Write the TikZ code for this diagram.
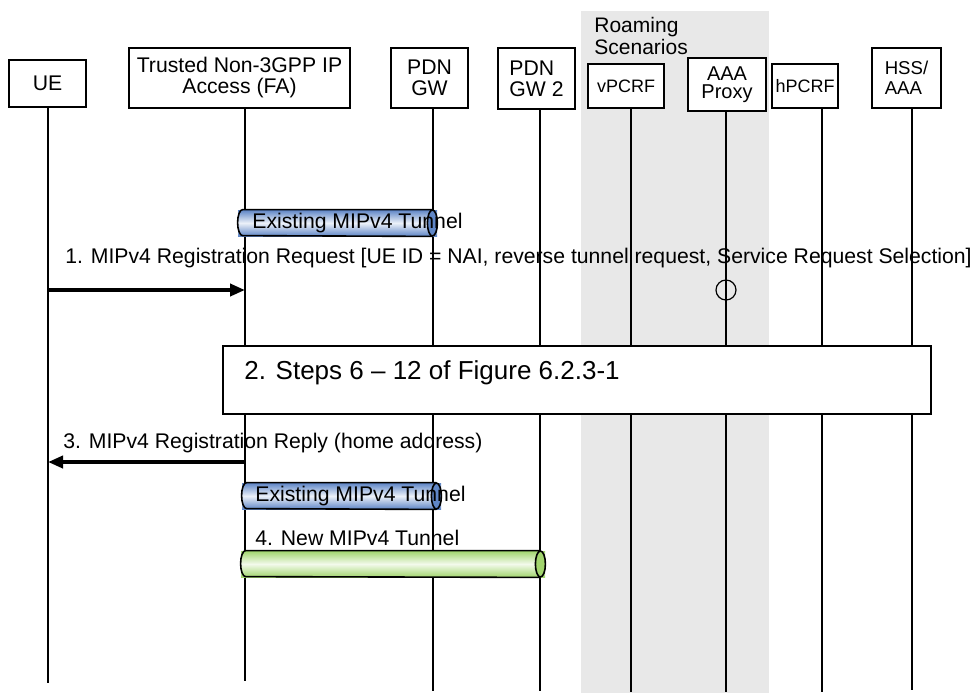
\documentclass[tikz,border=0pt]{standalone}
\usepackage{fontspec}
\setmainfont{Liberation Sans}
\usepackage{xcolor}
\usepackage{tikz}
\usetikzlibrary{arrows.meta,positioning,calc}

\definecolor{roam}{HTML}{E8E8E8}
\definecolor{tunblue}{HTML}{5F86C6}
\definecolor{tunbluel}{HTML}{ECF1F9}
\definecolor{tungreen}{HTML}{A2D56E}
\definecolor{tungreenl}{HTML}{F3FAEC}

\begin{document}
\begin{tikzpicture}[x=0.5pt, y=-0.5pt,
    actor/.style={rectangle, draw, line width=1pt, fill=white, inner sep=0pt, align=center,
        font=\fontsize{10.6}{10.5}\selectfont},
    small/.style={font=\fontsize{9}{9.5}\selectfont},
    life/.style={line width=0.8pt},
    msg/.style={line width=2pt, -{Triangle[length=7.5pt, width=6pt]}},
    lbl/.style={inner sep=0pt, anchor=west, font=\fontsize{10.6}{10.5}\selectfont},
    pipe/.style={rectangle, inner sep=0pt, minimum height=13pt},
    pipeedge/.style={line width=0.8pt}
]
\useasboundingbox (0,0) rectangle (974,693);

% roaming area
\fill[roam] (581,11) rectangle (769,693);
\node[lbl, anchor=north west, align=left, font=\fontsize{10.5}{9}\selectfont] (roaming) at (594,17) {Roaming\\Scenarios};

% entities
\node[actor, minimum width=38.5pt, minimum height=23.5pt] (ue) at (47.5,83.5) {UE};
\node[actor, minimum width=110.5pt, minimum height=30pt] (fa) at (239.5,78) {Trusted Non-3GPP IP\\Access (FA)};
\node[actor, minimum width=38.5pt, minimum height=30pt] (pgw) at (429.5,78) {PDN\\GW};
\node[actor, minimum width=38.5pt, minimum height=30.5pt, align=left] (pgw2) at (536.5,78.5) {PDN\\GW 2};
\node[actor, small, minimum width=38pt, minimum height=22pt] (vpcrf) at (626,86) {vPCRF};
\node[actor, minimum width=39pt, minimum height=26.5pt, font=\fontsize{10}{9}\selectfont] (aaa) at (727,84.5) {AAA\\Proxy};
\node[actor, small, minimum width=33pt, minimum height=22pt] (hpcrf) at (805,86) {hPCRF};
\node[actor, minimum width=34.5pt, minimum height=30pt, align=left, font=\fontsize{9.3}{10}\selectfont] (hss) at (906.5,78) {HSS/\\AAA};

% lifelines
\coordinate (ueB) at (48,683);
\coordinate (faB) at (245,681);
\coordinate (pgwB) at (433,691);
\coordinate (pgw2B) at (540,691);
\coordinate (vpcrfB) at (631,692);
\coordinate (aaaB) at (726,692);
\coordinate (hpcrfB) at (822,692);
\coordinate (hssB) at (912,690);
\foreach \n in {ue,fa,pgw,pgw2,vpcrf,aaa,hpcrf,hss}
    \draw[life] (\n.south -| \n B) -- (\n B);

% 1. registration request
\coordinate (m1) at (0,290);
\node[lbl] (m1lbl) at (65,258) {1. MIPv4 Registration Request [UE ID = NAI, reverse tunnel request, Service Request Selection]};
\draw[msg] (ueB |- m1) -- (faB |- m1);
\node[circle, draw, line width=0.6pt, minimum size=10pt, inner sep=0pt] (aaaC) at (aaaB |- m1) {};

% existing tunnel
\node[pipe, minimum width=99.5pt, top color=tunblue, bottom color=tunblue, middle color=tunbluel] (tun1) at (337.5,223) {};
\filldraw[pipeedge, fill=tunblue] ([xshift=-2.5pt]tun1.east) ellipse[x radius=2.5pt, y radius=6.5pt];
\draw[pipeedge] ([xshift=-2.5pt]tun1.north east) -- ([xshift=2.5pt]tun1.north west)
    arc[start angle=90, end angle=270, x radius=2.5pt, y radius=6.5pt] -- ([xshift=-2.5pt]tun1.south east);
\node[lbl] (tun1lbl) at (252,223) {Existing MIPv4 Tunnel};

% 2. steps
\node[rectangle, draw, line width=1pt, fill=white, minimum width=354pt, minimum height=34pt] (steps) at (577,380) {};
\node[lbl, font=\fontsize{13}{13}\selectfont] (stepslbl) at (244,373) {2. Steps 6 -- 12 of Figure 6.2.3-1};

% 3. registration reply
\coordinate (m3) at (0,462);
\node[lbl] (m3lbl) at (63,443) {3. MIPv4 Registration Reply (home address)};
\draw[msg] (faB |- m3) -- (ueB |- m3);

% existing tunnel again
\node[pipe, minimum width=99.5pt, top color=tunblue, bottom color=tunblue, middle color=tunbluel] (tun2) at (341.5,496) {};
\filldraw[pipeedge, fill=tunblue] ([xshift=-2.5pt]tun2.east) ellipse[x radius=2.5pt, y radius=6.5pt];
\draw[pipeedge] ([xshift=-2.5pt]tun2.north east) -- ([xshift=2.5pt]tun2.north west)
    arc[start angle=90, end angle=270, x radius=2.5pt, y radius=6.5pt] -- ([xshift=-2.5pt]tun2.south east);
\node[lbl] (tun2lbl) at (255,496) {Existing MIPv4 Tunnel};

% 4. new tunnel
\node[lbl] (tun3lbl) at (255,538) {4. New MIPv4 Tunnel};
\node[pipe, minimum width=152pt, top color=tungreen, bottom color=tungreen, middle color=tungreenl] (tun3) at (393,564) {};
\filldraw[pipeedge, fill=tungreen] ([xshift=-2.5pt]tun3.east) ellipse[x radius=2.5pt, y radius=6.5pt];
\draw[pipeedge] ([xshift=-2.5pt]tun3.north east) -- ([xshift=2.5pt]tun3.north west)
    arc[start angle=90, end angle=270, x radius=2.5pt, y radius=6.5pt] -- ([xshift=-2.5pt]tun3.south east);
\end{tikzpicture}
\end{document}
